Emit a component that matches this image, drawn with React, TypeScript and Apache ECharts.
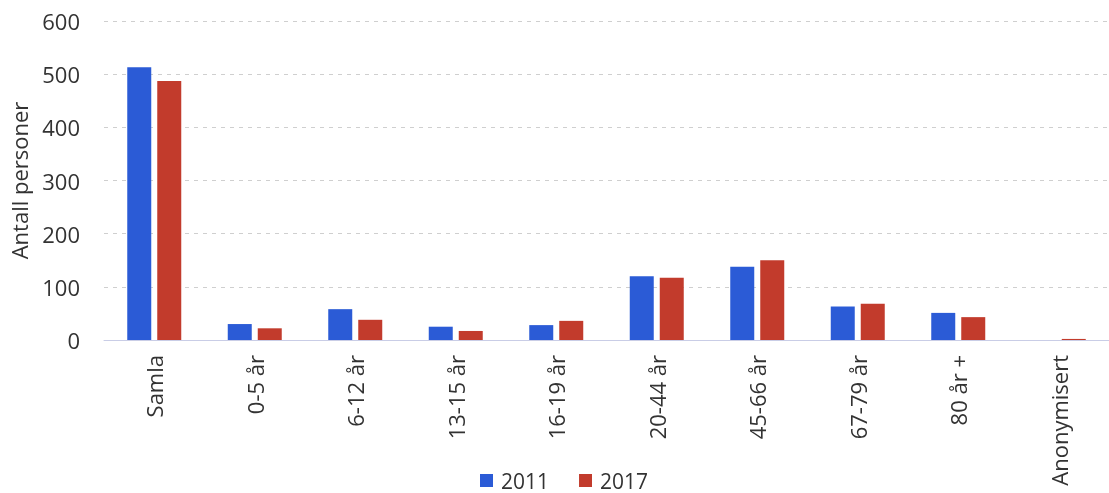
import React, { useEffect, useRef } from "react";
import * as echarts from "echarts";

const categories = ["Samla", "0-5 år", "6-12 år", "13-15 år", "16-19 år", "20-44 år", "45-66 år", "67-79 år", "80 år +", "Anonymisert"];
const values2011 = [513, 30, 58, 25, 28, 120, 138, 63, 51, 0];
const values2017 = [487, 22, 38, 17, 36, 117, 150, 68, 43, 2];
const seriesNames = ["2011", "2017"];

export default function App() {
  const ref = useRef<HTMLDivElement>(null);
  useEffect(() => {
    if (!ref.current) return;
    const chart = echarts.init(ref.current, undefined, { renderer: "svg" });
    const font = "'Open Sans', 'Noto Sans', sans-serif";
    chart.setOption({
      animation: false,
      textStyle: { fontFamily: font },
      grid: { left: 103, top: 21, width: 1016, height: 319 },
      legend: {
        data: seriesNames,
        top: 470,
        left: 480,
        padding: 0,
        itemWidth: 13,
        itemHeight: 13,
        itemGap: 30,
        icon: "rect",
        textStyle: { fontSize: 21, lineHeight: 20, color: "#333", fontFamily: font, padding: [0, 0, 0, 3] },
      },
      xAxis: {
        type: "category",
        data: categories,
        axisLine: { lineStyle: { color: "#c9cde6", width: 1 } },
        axisTick: { show: false },
        axisLabel: { rotate: 90, fontSize: 22, color: "#333", margin: 15, interval: 0 },
      },
      yAxis: {
        type: "value",
        min: 0,
        max: 600,
        interval: 100,
        name: "Antall personer",
        nameLocation: "middle",
        nameGap: 74,
        nameTextStyle: { fontSize: 22, color: "#333" },
        axisLine: { show: false },
        axisTick: { show: false },
        axisLabel: { fontSize: 22, color: "#333", margin: 24 },
        splitLine: { lineStyle: { color: "#cfcfcf", type: [4, 5] } },
      },
      series: [
        { name: seriesNames[0], type: "bar", data: values2011, barWidth: 24, barGap: "25%", itemStyle: { color: "#2b5bd6" } },
        { name: seriesNames[1], type: "bar", data: values2017, barWidth: 24, itemStyle: { color: "#c23b2c" } },
      ],
    });
    return () => chart.dispose();
  }, []);
  return <div ref={ref} style={{ position: "fixed", left: 0, top: 0, width: 1109, height: 493 }} />;
}
